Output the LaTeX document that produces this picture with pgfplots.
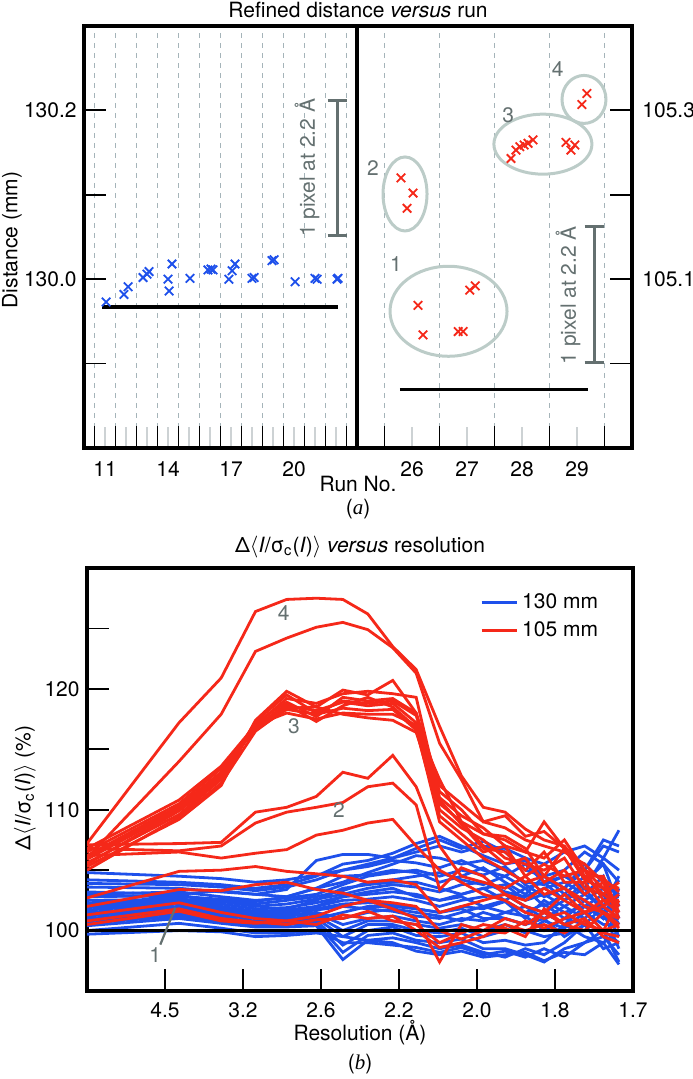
\documentclass[border=0pt]{standalone}
\usepackage{pgfplots}
\usepackage{pgfplotstable}
\pgfplotsset{compat=1.18}
\usepackage{fontspec}
\setmainfont{TeX Gyre Heros}
\newfontfamily\seriffont{Liberation Serif}

\definecolor{ptblue}{RGB}{30,80,235}
\definecolor{ptred}{RGB}{245,40,25}
\definecolor{gridc}{RGB}{165,180,185}
\definecolor{ellc}{RGB}{188,204,200}
\definecolor{annot}{RGB}{100,112,112}
\definecolor{minort}{RGB}{205,210,212}

% one row per curve, transposed below so each curve becomes a column
\pgfplotstableread{
name c0 c1 c2 c3 c4 c5 c6 c7 c8 c9 c10 c11 c12 c13 c14 c15 c16 c17 c18 c19
s 0 0.059 0.086 0.108 0.128 0.147 0.164 0.180 0.196 0.211 0.226 0.240 0.254 0.268 0.281 0.293 0.306 0.319 0.331 0.341
b1 104.8 104.5 104.3 104.0 104.2 104.6 105.0 105.5 106.0 106.5 107.0 106.5 107.0 106.8 106.0 105.5 106.5 107.0 106.0 108.3
b2 104.2 104.0 103.8 103.5 103.8 104.5 105.5 105.8 106.4 107.2 107.8 107.0 106.2 105.5 105.8 104.5 105.0 106.5 105.5 104.0
b3 103.6 103.5 103.2 103.0 103.4 105.8 106.3 106.3 106.0 106.8 107.5 106.8 107.4 106.5 105.0 104.5 103.5 105.0 107.0 106.5
b4 103.2 103.0 103.3 103.0 102.8 103.5 104.0 104.8 105.5 106.2 106.0 105.5 105.8 105.0 104.0 103.8 104.5 103.5 106.0 105.0
b5 103.0 103.2 102.8 102.5 102.7 103.0 103.8 104.5 104.8 105.0 104.5 105.0 104.6 105.3 103.8 102.8 103.5 105.5 104.0 103.0
b6 102.8 102.9 102.5 102.2 102.5 102.8 103.3 104.0 104.2 104.5 104.8 104.2 103.8 104.5 103.5 104.0 102.5 104.0 105.5 102.0
b7 102.5 102.6 102.4 102.0 102.2 102.6 103.0 103.5 103.8 103.6 103.2 103.8 104.0 103.2 102.8 103.5 104.0 103.0 102.0 104.5
b8 102.3 102.5 102.2 101.8 101.9 102.3 102.8 103.0 103.2 103.0 102.5 103.0 103.5 102.5 103.5 102.0 103.0 102.5 103.5 101.5
b9 102.1 102.4 102.0 101.6 101.7 102.0 102.5 102.6 102.8 102.5 102.0 102.5 102.8 103.0 102.0 101.5 102.5 103.5 101.5 103.0
b10 101.9 102.3 101.8 101.5 101.6 101.8 102.2 102.3 102.2 101.8 101.5 102.0 101.8 102.4 101.0 102.5 101.5 102.0 103.0 100.5
b11 101.7 102.2 101.6 101.4 101.5 101.7 102.0 101.8 101.6 101.2 101.0 101.5 102.0 101.5 102.0 101.0 102.0 101.0 102.5 102.0
b12 101.5 102.0 101.5 101.3 101.3 101.5 101.0 101.5 101.8 101.5 101.2 100.8 101.5 101.0 100.5 101.5 100.5 102.0 101.0 101.0
b13 101.4 101.9 101.4 101.2 101.2 101.4 100.5 101.0 101.2 100.8 100.5 101.0 100.8 101.5 101.2 100.0 101.0 100.5 102.0 99.5
b14 101.2 101.8 101.2 101.0 101.0 101.2 100.0 100.8 100.8 100.5 100.2 100.5 100.0 100.5 99.8 100.8 100.2 101.5 100.5 100.5
b15 101.0 101.6 101.0 100.8 100.8 101.0 99.5 100.5 100.5 100.0 99.8 100.2 99.5 100.0 100.0 99.5 99.8 100.0 101.5 98.5
b16 100.8 101.4 100.9 100.7 100.6 100.8 98.8 100.0 100.3 99.6 99.5 99.8 99.0 99.2 98.8 99.0 100.5 99.5 99.0 100.0
b17 100.6 101.2 100.8 100.5 100.5 100.6 98.2 99.6 99.8 99.2 99.0 99.3 98.5 98.5 98.0 97.4 98.5 99.0 100.0 97.4
b18 100.4 101.0 100.6 100.3 100.3 100.4 97.6 99.2 99.4 99.0 98.5 98.8 98.2 97.8 98.5 98.0 99.0 100.5 98.5 99.0
b19 100.0 100.6 100.2 99.8 99.8 100.0 99.0 99.0 98.8 98.6 98.2 98.6 98.0 98.3 97.8 98.5 97.8 99.0 99.5 98.0
b20 99.7 100.0 99.9 99.5 99.6 99.8 99.5 99.2 99.0 98.3 98.0 98.3 97.8 98.0 98.2 97.5 98.2 98.0 99.0 97.2
b21 103.9 103.8 103.6 103.3 103.6 104.2 105.0 105.3 105.8 105.6 105.2 105.8 105.0 104.5 105.5 104.0 104.5 105.0 107.5 107.0
b22 102.9 102.8 102.6 102.4 102.8 103.5 104.5 104.6 105.0 104.8 104.0 104.5 105.2 104.0 103.0 104.5 103.0 104.5 103.0 102.8
b23 102.0 101.7 101.9 101.5 101.8 102.5 103.5 103.8 104.0 104.0 103.5 103.0 103.5 103.8 102.5 103.0 102.0 103.0 104.5 101.0
b24 101.3 101.5 101.2 101.1 101.4 102.0 102.8 103.2 103.5 102.8 102.5 102.8 102.0 102.5 101.5 102.2 101.0 102.5 101.0 103.5
b25 100.9 101.1 100.7 100.4 100.6 101.0 101.5 102.0 102.0 101.8 101.5 101.8 101.0 101.0 100.5 101.0 99.5 100.5 100.0 99.0
}\bluerows
\pgfplotstabletranspose[colnames from=name]\bluetab{\bluerows}

\pgfplotstableread{
name c0 c1 c2 c3 c4 c5 c6 c7 c8 c9 c10 c11 c12 c13 c14 c15 c16 c17 c18 c19
s 0 0.059 0.086 0.108 0.128 0.147 0.164 0.180 0.196 0.211 0.226 0.240 0.254 0.268 0.281 0.293 0.306 0.319 0.331 0.341
r1 107.2 117.2 120.9 126.4 127.4 127.5 127.4 126.2 123.5 121.6 116.9 112.8 110.2 109.8 108.4 107.5 107.0 105.0 104.3 103.2
r2 106.0 114.0 117.9 123.1 124.2 125.1 125.5 124.9 123.4 121.3 115.5 112.5 109.0 109.5 107.8 108.2 106.8 104.2 103.5 102.0
r3 105.3 109.2 112.0 117.4 119.8 118.5 119.9 119.5 120.7 118.0 112.0 110.5 109.0 108.5 107.5 107.0 106.5 105.5 104.0 103.5
r4 105.6 109.6 112.5 117.0 119.2 118.8 119.6 119.8 119.6 119.3 111.0 109.5 108.5 107.0 106.5 106.0 107.5 105.0 103.5 102.0
r5 105.9 110.0 112.8 117.2 118.9 117.7 119.3 119.0 119.2 118.0 110.5 109.0 108.0 107.5 106.5 109.0 106.8 104.5 104.5 101.5
r6 106.2 110.3 113.1 116.8 118.6 118.2 118.9 118.6 118.8 117.2 110.0 108.5 107.5 106.0 105.5 105.0 106.0 103.5 103.0 104.0
r7 106.5 110.5 113.4 116.6 118.3 117.9 118.4 118.2 118.3 116.6 109.5 108.0 106.5 107.0 104.5 105.5 104.5 105.0 102.5 102.5
r8 106.8 110.8 113.6 117.0 118.0 117.5 118.0 117.9 117.9 117.0 112.5 109.0 107.0 105.5 106.0 104.0 105.0 103.0 104.0 101.0
r9 105.0 109.4 112.2 116.5 118.4 118.5 117.9 117.6 117.4 116.4 110.8 108.8 106.8 106.5 105.0 106.5 104.0 104.0 102.0 103.0
r10 105.5 109.9 112.6 117.3 119.5 118.0 119.0 118.8 119.0 117.8 111.5 110.0 108.0 107.8 106.8 104.5 106.8 104.5 103.0 102.0
r11 106.0 110.2 113.0 116.9 118.7 117.3 118.6 119.3 118.5 116.8 109.0 107.5 106.0 105.0 104.0 104.5 103.5 102.5 101.5 100.5
r12 107.1 107.2 107.3 109.8 110.2 111.1 113.1 112.6 114.5 111.9 107.0 104.5 104.0 103.5 104.5 103.0 103.5 102.0 101.5 101.0
r13 106.8 106.6 107.0 108.9 109.8 110.2 110.6 111.9 112.2 110.4 103.4 105.2 104.5 103.0 102.5 103.5 102.5 101.5 102.5 101.5
r14 106.2 106.5 106.0 106.4 106.7 107.9 108.3 108.9 109.2 107.0 105.0 104.0 103.0 102.5 101.5 101.0 101.5 100.5 100.0 100.5
r15 102.7 104.9 105.0 105.3 104.9 104.7 104.5 104.0 104.2 103.8 101.5 102.0 102.5 103.0 102.0 101.5 103.0 101.5 102.0 101.0
r16 102.0 103.4 103.3 103.8 104.0 103.4 103.1 102.5 102.3 102.0 100.0 99.3 100.0 101.0 100.5 101.5 100.5 101.0 99.5 99.0
r17 101.3 102.3 101.5 101.0 100.8 101.2 102.0 102.5 101.8 101.0 97.4 100.5 100.0 99.8 100.8 100.2 101.0 101.5 100.0 102.5
r18 100.8 101.8 101.0 100.7 100.5 100.9 101.0 101.6 100.8 100.5 99.0 99.8 100.5 100.2 99.5 101.8 100.5 100.0 101.5 100.2
r19 100.5 101.6 100.8 100.6 100.8 100.5 101.3 101.0 101.2 100.0 98.6 99.0 99.5 100.5 100.0 100.5 99.8 100.8 99.8 99.5
}\redrows
\pgfplotstabletranspose[colnames from=name]\redtab{\redrows}

\pgfplotsset{
  panel/.style={
    scale only axis, anchor=south west,
    axis line style={line width=1.8pt},
    tick align=inside,
    major tick length=11pt, minor tick length=10.5pt,
    major tick style={black, line width=0.9pt},
    minor tick style={minort, line width=0.6pt},
    xmajorgrids,
    major grid style={gridc, line width=0.5pt, dash pattern=on 2.5pt off 2.5pt},
    extra x tick style={grid=none, major tick length=0pt},
    xtick pos=bottom,
    xticklabel style={yshift=-3pt},
  },
}

\begin{document}
\fontsize{10.5}{12.5}\selectfont
\begin{tikzpicture}
\useasboundingbox (0,0) rectangle (346pt,-539.5pt);

% (a) left: 130 mm runs
\begin{axis}[panel,
  at={(42pt,-224pt)}, width=136.5pt, height=211pt,
  xmin=10, xmax=23, ymin=129.8, ymax=130.3,
  xtick={10.5,11.5,...,22.5}, xticklabels={},
  minor xtick={11,...,22},
  extra x ticks={11,14,17,20}, extra x tick labels={11,14,17,20},
  ytick={129.9,130,130.1,130.2}, yticklabels={,130.0,,130.2},
  ytick pos=left,
]
\addplot[only marks, mark=x, mark size=3pt, ptblue, mark options={line width=0.9pt}]
coordinates {
(11.05,129.973) (11.90,129.982) (12.10,129.991) (12.81,130.002) (13.00,130.006)
(13.10,130.009) (14.00,130.000) (14.05,129.986) (14.19,130.018) (15.05,130.001)
(15.90,130.011) (16.05,130.012) (16.14,130.011) (16.90,130.000) (17.05,130.010)
(17.19,130.018) (18.00,130.001) (18.10,130.002) (18.95,130.022) (19.05,130.023)
(20.05,129.997) (21.00,130.001) (21.10,130.000) (22.05,130.000) (22.10,130.001)
};
\addplot[black, line width=1.6pt] coordinates {(10.85,129.967) (22.1,129.967)};
% scale bar
\draw[annot, line width=1.5pt] (axis cs:22.05,130.2118) -- (axis cs:22.05,130.0518);
\draw[annot, line width=1.5pt] ([xshift=-4.75pt]axis cs:22.05,130.2118) -- ([xshift=4.75pt]axis cs:22.05,130.2118);
\draw[annot, line width=1.5pt] ([xshift=-4.75pt]axis cs:22.05,130.0518) -- ([xshift=4.75pt]axis cs:22.05,130.0518);
\node[annot, rotate=90] at (axis cs:20.62,130.132) {1 pixel at 2.2 Å};
\end{axis}

% (a) right: 105 mm runs
\begin{axis}[panel,
  at={(178.5pt,-224pt)}, width=137.5pt, height=211pt,
  xmin=25, xmax=30, ymin=104.9, ymax=105.4,
  xtick={25.5,26.5,...,29.5}, xticklabels={},
  minor xtick={26,...,29},
  extra x ticks={26,27,28,29}, extra x tick labels={26,27,28,29},
  ytick={105,105.1,105.2,105.3}, yticklabels={,105.1,,105.3},
  ytick pos=right, yticklabel pos=right,
  yticklabel style={xshift=1.5pt},
]
\draw[ellc, line width=1.5pt] (axis cs:29.127,105.313) ellipse [x radius=11pt, y radius=12pt];
\draw[ellc, line width=1.5pt] (axis cs:28.38,105.26) ellipse [x radius=24.5pt, y radius=15pt];
\draw[ellc, line width=1.5pt] (axis cs:25.873,105.201) ellipse [x radius=11pt, y radius=18.5pt];
\draw[ellc, line width=1.5pt] (axis cs:26.664,105.062) ellipse [x radius=29.25pt, y radius=22.5pt];
\addplot[only marks, mark=x, mark size=3pt, ptred, mark options={line width=0.9pt}]
coordinates {
(29.18,105.320) (29.09,105.307)
(27.80,105.243) (27.89,105.253) (27.96,105.257) (28.04,105.259) (28.11,105.261)
(28.20,105.265) (28.80,105.262) (28.89,105.253) (28.96,105.259)
(25.80,105.220) (26.02,105.202) (25.91,105.184)
(26.11,105.069) (26.20,105.034) (26.84,105.038) (26.93,105.038) (27.05,105.087) (27.15,105.092)
};
\addplot[black, line width=1.6pt] coordinates {(25.78,104.969) (29.2,104.969)};
\node[annot] at (axis cs:28.65,105.349) {4};
\node[annot] at (axis cs:27.75,105.294) {3};
\node[annot] at (axis cs:25.29,105.232) {2};
\node[annot] at (axis cs:25.71,105.118) {1};
% scale bar
\draw[annot, line width=1.5pt] (axis cs:29.31,105.162) -- (axis cs:29.31,105.001);
\draw[annot, line width=1.5pt] ([xshift=-4.75pt]axis cs:29.31,105.162) -- ([xshift=4.75pt]axis cs:29.31,105.162);
\draw[annot, line width=1.5pt] ([xshift=-4.75pt]axis cs:29.31,105.001) -- ([xshift=4.75pt]axis cs:29.31,105.001);
\node[annot, rotate=90] at (axis cs:28.836,105.081) {1 pixel at 2.2 Å};
\end{axis}

\node at (179pt,-5pt) {Refined distance \textit{versus} run};
\node[inner sep=1pt] at (179pt,-242pt) {Run No.};
\node[rotate=90] at (6pt,-120pt) {Distance (mm)};
\node[inner sep=1pt] at (179pt,-254.5pt) {({\seriffont\itshape a})};

% (b)
\begin{axis}[
  at={(43.5pt,-495.5pt)}, anchor=south west, scale only axis,
  width=273pt, height=211.5pt,
  xmin=0, xmax=0.35, ymin=95, ymax=130,
  axis line style={line width=1.8pt},
  tick align=inside, major tick length=11pt,
  major tick style={black, line width=0.9pt},
  xtick={0.05,0.10,0.15,0.20,0.25,0.30,0.35},
  xticklabels={4.5,3.2,2.6,2.2,2.0,1.8,1.7},
  xticklabel style={yshift=-2pt},
  ytick={100,105,110,115,120,125}, yticklabels={100,,110,,120,},
  xtick pos=bottom, ytick pos=left,
  legend style={at={(0.955,0.96)}, anchor=north east, draw=none, fill=none,
    row sep=1pt, cells={anchor=west}},
  legend image code/.code={\draw[#1] (0pt,0pt) -- (17.5pt,0pt);},
]
\pgfplotsinvokeforeach{1,...,25}{
  \addplot[ptblue, line width=1.4pt, forget plot] table[x=s, y=b#1] {\bluetab};
}
\pgfplotsinvokeforeach{1,...,19}{
  \addplot[ptred, line width=1.4pt, forget plot] table[x=s, y=r#1] {\redtab};
}
\addplot[black, line width=1.6pt, forget plot] coordinates {(0,100) (0.35,100)};
\addlegendimage{ptblue, line width=1.6pt}
\addlegendentry{130 mm}
\addlegendimage{ptred, line width=1.6pt}
\addlegendentry{105 mm}
\node[annot] at (axis cs:0.1261,126.3) {4};
\node[annot] at (axis cs:0.1326,116.9) {3};
\node[annot] at (axis cs:0.1615,110.0) {2};
\node[annot] at (axis cs:0.0438,98.0) {1};
\draw[annot, line width=1.1pt] (axis cs:0.047,98.84) -- (axis cs:0.0566,101.9);
\end{axis}

\node at (180pt,-273.5pt) {Δ$\langle$\textit{I}/σ\textsubscript{c}(\textit{I})$\rangle$ \textit{versus} resolution};
\node at (180pt,-516.5pt) {Resolution (Å)};
\node[rotate=90] at (12.5pt,-394pt) {Δ$\langle$\textit{I}/σ\textsubscript{c}(\textit{I})$\rangle$ (\%)};
\node at (180pt,-532pt) {({\seriffont\itshape b})};
\end{tikzpicture}
\end{document}
